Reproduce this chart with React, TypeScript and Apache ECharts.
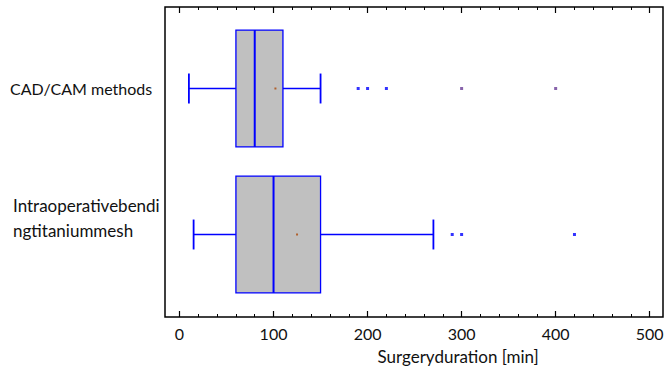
import React, { useEffect, useRef } from 'react';
import * as echarts from 'echarts';

const categories = ['CAD/CAM methods', 'Intraoperativebendingtitaniummesh'];
const whiskerLow = [10, 15];
const q1 = [60, 60];
const medians = [80, 100];
const q3 = [110, 150];
const whiskerHigh = [150, 270];
const means = [102, 125];
const outliersCad = [190, 200, 220];
const farOutliersCad = [300, 400];
const outliersIntra = [290, 300, 420];
const xMin = 0;
const xMax = 500;
const xStep = 100;
const axisTitle = 'Surgeryduration [min]';

const FONT = 'Lato';
const BLUE = '#0000ff';

export default function App() {
  const ref = useRef<HTMLDivElement>(null);
  useEffect(() => {
    if (!ref.current) return;
    document.body.style.margin = '0';
    const chart = echarts.init(ref.current, null, { renderer: 'svg' });
    const boxData = categories.map((_, i) => [i, whiskerLow[i], q1[i], medians[i], q3[i], whiskerHigh[i], means[i]]);
    const tickCommon = {
      type: 'value',
      min: xMin,
      max: xMax,
      interval: xStep,
      axisLine: { show: false },
      splitLine: { show: false },
      axisTick: { show: true, inside: true, length: 6, lineStyle: { color: '#000', width: 1.2 } },
      minorTick: { show: true, splitNumber: 5, length: 3, lineStyle: { color: '#000', width: 1 } },
    };
    chart.setOption({
      animation: false,
      grid: { left: 179.5, right: 17.3, top: 15.5, bottom: 63.5 },
      graphic: [
        {
          type: 'rect',
          shape: { x: 165, y: 7, width: 498, height: 310 },
          style: { fill: 'none', stroke: '#000', lineWidth: 1.5 },
          z: 100,
        },
      ],
      xAxis: [
        {
          ...tickCommon,
          position: 'bottom',
          offset: 9.5,
          axisLabel: { show: true, margin: 8, fontFamily: FONT, fontSize: 16, color: '#111' },
          name: axisTitle,
          nameLocation: 'middle',
          nameGap: 31,
          nameTextStyle: { fontFamily: FONT, fontSize: 17, color: '#111', padding: [0, 0, 0, 87] },
        },
        {
          ...tickCommon,
          position: 'top',
          offset: 8.5,
          axisLabel: { show: false },
        },
      ],
      yAxis: {
        type: 'category',
        data: categories,
        inverse: true,
        axisLine: { show: false },
        axisTick: { show: false },
        splitLine: { show: false },
        axisLabel: {
          align: 'left',
          margin: 169.5,
          formatter: (v: string) =>
            v === categories[0]
              ? `{a|${v}}`
              : `{b|${v.slice(0, 19)}}\n{b|${v.slice(19)}}\n{e| }`,
          rich: {
            a: { fontFamily: FONT, fontSize: 16, color: '#111' },
            b: { fontFamily: FONT, fontSize: 17, color: '#111', lineHeight: 25, padding: [0, 0, 0, 3] },
            e: { fontSize: 1, lineHeight: 33 },
          },
        },
      },
      series: [
        {
          type: 'custom',
          data: boxData,
          encode: { y: 0, x: [1, 2, 3, 4, 5, 6] },
          renderItem: (params: any, api: any) => {
            const cat = api.value(0);
            const band = api.size([0, 1])[1];
            const boxH = band * 0.8;
            const capH = band * 0.205;
            const pLow = api.coord([api.value(1), cat]);
            const pQ1 = api.coord([api.value(2), cat]);
            const pMed = api.coord([api.value(3), cat]);
            const pQ3 = api.coord([api.value(4), cat]);
            const pHigh = api.coord([api.value(5), cat]);
            const pMean = api.coord([api.value(6), cat]);
            const cy = pQ1[1];
            return {
              type: 'group',
              children: [
                { type: 'line', shape: { x1: pLow[0], y1: cy, x2: pQ1[0], y2: cy }, style: { stroke: BLUE, lineWidth: 1.3 } },
                { type: 'line', shape: { x1: pQ3[0], y1: cy, x2: pHigh[0], y2: cy }, style: { stroke: BLUE, lineWidth: 1.6 } },
                { type: 'line', shape: { x1: pLow[0], y1: cy - capH / 2, x2: pLow[0], y2: cy + capH / 2 }, style: { stroke: BLUE, lineWidth: 1.8 } },
                { type: 'line', shape: { x1: pHigh[0], y1: cy - capH / 2, x2: pHigh[0], y2: cy + capH / 2 }, style: { stroke: BLUE, lineWidth: 1.8 } },
                { type: 'rect', shape: { x: pQ1[0], y: cy - boxH / 2, width: pQ3[0] - pQ1[0], height: boxH }, style: { fill: '#c0c0c0', stroke: BLUE, lineWidth: 1.3 } },
                { type: 'line', shape: { x1: pMed[0], y1: cy - boxH / 2, x2: pMed[0], y2: cy + boxH / 2 }, style: { stroke: BLUE, lineWidth: 2 } },
                { type: 'rect', shape: { x: pMean[0] - 1, y: cy - 1, width: 2, height: 2 }, style: { fill: '#b0602c' } },
              ],
            };
          },
          z: 2,
        },
        {
          type: 'scatter',
          symbol: 'rect',
          symbolSize: 3,
          itemStyle: { color: BLUE },
          data: [
            ...outliersCad.map((v) => [v, categories[0]]),
            ...outliersIntra.map((v) => [v, categories[1]]),
          ],
          z: 3,
        },
        {
          type: 'scatter',
          symbol: 'rect',
          symbolSize: 3,
          itemStyle: { color: '#6a3c96' },
          data: farOutliersCad.map((v) => [v, categories[0]]),
          z: 3,
        },
      ],
    });
    return () => chart.dispose();
  }, []);
  return <div ref={ref} style={{ width: 667, height: 371 }} />;
}
